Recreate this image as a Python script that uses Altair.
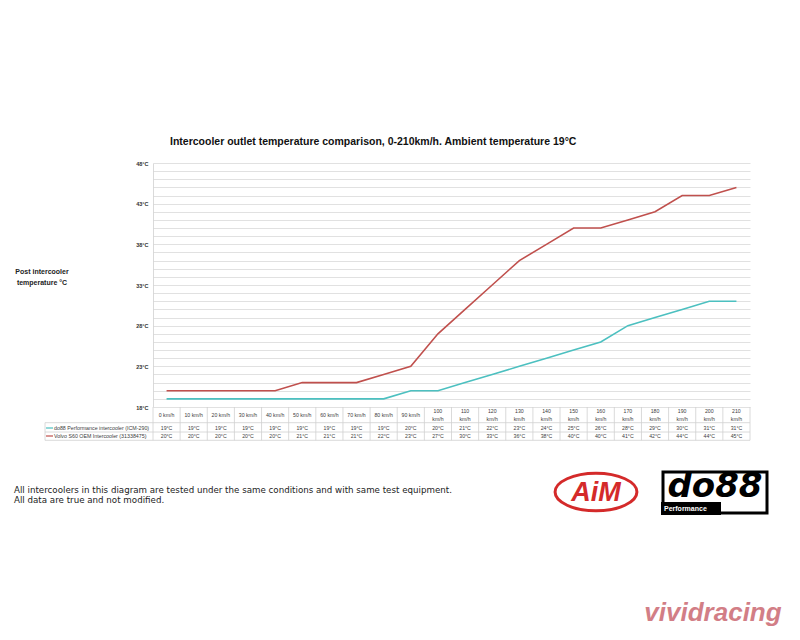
import altair as alt
import pandas as pd

# ---- data ----
speeds = [0, 10, 20, 30, 40, 50, 60, 70, 80, 90, 100, 110, 120, 130, 140, 150, 160, 170, 180, 190, 200, 210]
do88_temps = [19, 19, 19, 19, 19, 19, 19, 19, 19, 20, 20, 21, 22, 23, 24, 25, 26, 28, 29, 30, 31, 31]
volvo_temps = [20, 20, 20, 20, 20, 21, 21, 21, 22, 23, 27, 30, 33, 36, 38, 40, 40, 41, 42, 44, 44, 45]
series_names = ["do88 Performance intercooler (ICM-290)", "Volvo S60 OEM Intercooler (31338475)"]
series_colors = ["#4cc0c0", "#c0504d"]
y_min, y_max = 18, 48
title_text = "Intercooler outlet temperature comparison, 0-210km/h. Ambient temperature 19\u00b0C"
y_title = ["Post intercooler", "temperature \u00b0C"]
footer_lines = ["All intercoolers in this diagram are tested under the same conditions and with same test equipment.",
                "All data are true and not modified."]

W, H = 597, 244
FONT = "Liberation Sans"

# ---- tables ----
lines_df = pd.DataFrame(
    [{"speed": s, "temp": t, "series": series_names[0]} for s, t in zip(speeds, do88_temps)]
    + [{"speed": s, "temp": t, "series": series_names[1]} for s, t in zip(speeds, volvo_temps)]
)
table_df = pd.DataFrame({
    "speed": speeds,
    "single": [f"{s} km/h" if s < 100 else "" for s in speeds],
    "top": ["" if s < 100 else f"{s}" for s in speeds],
    "bottom": ["" if s < 100 else "km/h" for s in speeds],
    "r1": [f"{v}\u00b0C" for v in do88_temps],
    "r2": [f"{v}\u00b0C" for v in volvo_temps],
})
step = speeds[1] - speeds[0]
bounds = [s - step / 2 for s in speeds] + [speeds[-1] + step / 2]
bounds_df = pd.DataFrame({"b": bounds})
one_df = pd.DataFrame({"k": [0]})

xs = alt.Scale(domain=[bounds[0], bounds[-1]], nice=False, zero=False)
ys = alt.Scale(domain=[y_min, y_max], nice=False, zero=False)
cs = alt.Scale(domain=series_names, range=series_colors)

lines = alt.Chart(lines_df).mark_line(strokeWidth=1.6).encode(
    x=alt.X("speed:Q", scale=xs, axis=None),
    y=alt.Y("temp:Q", scale=ys, axis=alt.Axis(
        values=list(range(y_min, y_max + 1)),
        labelExpr="(datum.value - 18) % 5 == 0 ? datum.value + '\u00b0C' : ''",
        grid=True, gridColor="#d9d9d9", gridWidth=0.8,
        ticks=False, domain=True, domainColor="#d0d0d0", domainWidth=0.8,
        labelFont=FONT, labelFontSize=5.5, labelFontWeight="bold", labelColor="#333333",
        labelPadding=5, title=None,
    )),
    color=alt.Color("series:N", scale=cs, legend=None),
)

tbl = alt.Chart(table_df)
txt_style = dict(font=FONT, fontSize=5.2, color="#404040", align="center", baseline="middle")
def tcol(field, yv):
    return tbl.mark_text(**txt_style).encode(
        x=alt.X("speed:Q", scale=xs, axis=None), y=alt.value(yv), text=f"{field}:N")
hdr = [tcol("single", 252), tcol("top", 248), tcol("bottom", 255.7)]
rows = [tcol("r1", 265), tcol("r2", 273)]

vgrid = alt.Chart(bounds_df).mark_rule(color="#d0d0d0", strokeWidth=0.8).encode(
    x=alt.X("b:Q", scale=xs, axis=None), y=alt.value(H), y2=alt.value(277.3))

hline_style = dict(color="#d0d0d0", strokeWidth=0.8)
def hrule(yv):
    return alt.Chart(one_df).mark_rule(**hline_style).encode(
        x=alt.value(-108), x2=alt.value(W), y=alt.value(yv))
vleft = alt.Chart(one_df).mark_rule(**hline_style).encode(
    x=alt.value(-108), y=alt.value(259.7), y2=alt.value(277.3))

def text_at(t, xv, yv, **kw):
    return alt.Chart(one_df).mark_text(text=t, **kw).encode(x=alt.value(xv), y=alt.value(yv))

def legend_row(i, yv):
    sw = alt.Chart(one_df).mark_rule(strokeWidth=1.2, color=series_colors[i]).encode(
        x=alt.value(-107), x2=alt.value(-100), y=alt.value(yv))
    tx = text_at(series_names[i], -99, yv, font=FONT, fontSize=5.3, color="#404040",
                 align="left", baseline="middle")
    return [sw, tx]

ytitle = [text_at(y_title[0], -111, 108.5, font=FONT, fontSize=7, fontWeight="bold", color="#222222",
                  align="center", baseline="middle"),
          text_at(y_title[1], -111, 119.5, font=FONT, fontSize=7, fontWeight="bold", color="#222222",
                  align="center", baseline="middle")]

footer = [text_at(footer_lines[0], -139, 326.5, font="DejaVu Sans", fontSize=8.7, color="#222222",
                  align="left", baseline="middle"),
          text_at(footer_lines[1], -139, 336.5, font="DejaVu Sans", fontSize=8.7, color="#222222",
                  align="left", baseline="middle")]

# logos (approximations)
ellipse = ("M -1 0 C -1 -0.25 -0.55 -0.46 0 -0.46 C 0.55 -0.46 1 -0.25 1 0 "
           "C 1 0.25 0.55 0.46 0 0.46 C -0.55 0.46 -1 0.25 -1 0 Z")
aim_ring = alt.Chart(one_df).mark_point(
    shape=ellipse, filled=False, size=6700, color="#d42a2a", opacity=1,
    strokeWidth=3).encode(x=alt.value(443), y=alt.value(329))
aim_txt = text_at("AiM", 443, 330, font=FONT, fontSize=27, fontWeight="bold", fontStyle="italic",
                  color="#d42a2a", align="center", baseline="middle")
do_box = alt.Chart(one_df).mark_rect(fill="white", stroke="black", strokeWidth=3).encode(
    x=alt.value(510), x2=alt.value(614), y=alt.value(309), y2=alt.value(350))
do_strip = alt.Chart(one_df).mark_rect(fill="black").encode(
    x=alt.value(508), x2=alt.value(568), y=alt.value(339), y2=alt.value(352))
do_txt = text_at("do88", 562, 324, font="DejaVu Sans", fontSize=34, fontWeight="bold",
                 fontStyle="italic", color="black", align="center", baseline="middle")
perf_txt = text_at("Performance", 511, 345.5, font=FONT, fontSize=7, fontWeight="bold",
                   color="white", align="left", baseline="middle")
wm = text_at("vividracing", 560, 450, font=FONT, fontSize=26, fontWeight="bold", fontStyle="italic",
             color="#c4545e", opacity=0.75, align="center", baseline="middle")

layers = [vgrid, hrule(259.7), hrule(269), hrule(277.3), vleft, lines] + hdr + rows
layers += legend_row(0, 265) + legend_row(1, 273)
layers += ytitle + footer
layers += [aim_ring, aim_txt, do_box, do_strip, do_txt, perf_txt, wm]

chart = alt.layer(*layers).properties(
    width=W, height=H,
    title=alt.TitleParams(text=title_text, anchor="start", frame="group", dx=17, offset=14,
                          font=FONT, fontSize=10.5, fontWeight="bold", color="#111111"),
    autosize=alt.AutoSizeParams(type="none"),
    padding={"left": 145, "top": 155, "right": 42, "bottom": 225},
    background="white",
).configure_view(stroke=None)

chart.save("out.html", embed_options={"renderer": "svg", "actions": False})
